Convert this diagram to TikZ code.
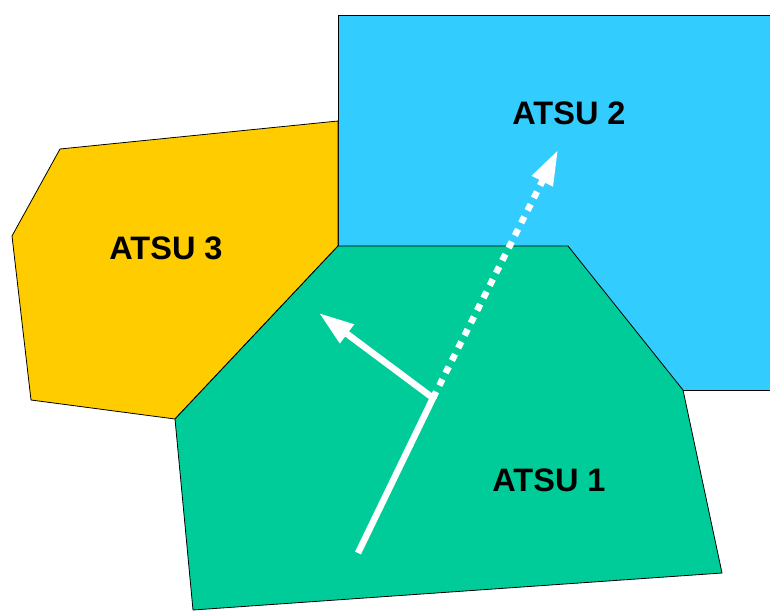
\documentclass[tikz,border=0pt]{standalone}
\usepackage{fontspec}
\setmainfont{Liberation Sans}
\usetikzlibrary{arrows.meta}
\definecolor{skyblue}{HTML}{33CCFF}
\definecolor{gold}{HTML}{FFCC00}
\definecolor{teal}{HTML}{00CC99}
\begin{document}
\begin{tikzpicture}[x=1pt,y=-1pt,line join=round,
				font=\fontsize{32.5}{38}\selectfont\bfseries,
				zone/.style={draw=black,line width=0.8pt},
				track/.style={white,line width=6.5pt,line join=miter,
					-{Triangle[length=35pt,width=22pt]}}]
				\useasboundingbox (0,0) rectangle (770,610);
				\path (338,15) coordinate (A)
				(338,121) coordinate (B)
				(338,246) coordinate (C)
				(568,246) coordinate (D)
				(683,390) coordinate (E)
				(175,419) coordinate (F);
				% sectors
				\draw[zone,fill=skyblue] (A) rectangle (780,390);
				\draw[zone,fill=gold] (60,149)--(B)--(C)--(F)--(31,400)--(12,236)--cycle;
				\draw[zone,fill=teal] (C)--(D)--(E)--(722,573)--(193,610)--(F)--cycle;
				\node (atsu2) at (569,113) {ATSU 2};
				\node (atsu3) at (166,248) {ATSU 3};
				\node (atsu1) at (549,480) {ATSU 1};
				% flight path
				\path (358,553) coordinate (start)
				(433,398) coordinate (turn)
				(319,313) coordinate (left)
				(558,150) coordinate (ahead);
				\draw[track] (start)--(turn)--(left);
				\draw[track,dash pattern=on 7pt off 7pt] (turn)--(ahead);
			\end{tikzpicture}
\end{document}
